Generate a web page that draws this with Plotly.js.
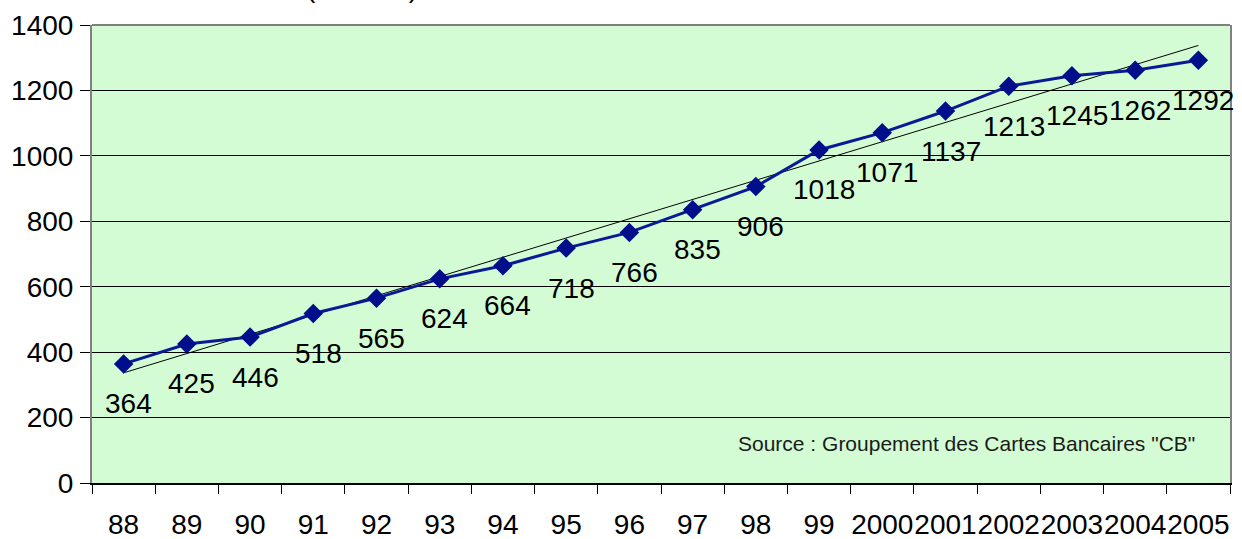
<!DOCTYPE html>
<html>
<head>
<meta charset="utf-8">
<script src="https://cdn.plot.ly/plotly-3.0.1.min.js"></script>
<style>html,body{margin:0;padding:0;background:#fff;}#chart{width:1242px;height:539px;}</style>
</head>
<body>
<div id="chart"></div>
<script>
const years = ['88','89','90','91','92','93','94','95','96','97','98','99','2000','2001','2002','2003','2004','2005'];
const cards = [364,425,446,518,565,624,664,718,766,835,906,1018,1071,1137,1213,1245,1262,1292];
const sourceText = 'Source : Groupement des Cartes Bancaires "CB"';
const titleText = '(millions)';

// Linear trend line (least squares over category index), like the spreadsheet trendline
const n = cards.length;
const idx = cards.map((_, i) => i);
const mx = idx.reduce((a, b) => a + b, 0) / n;
const my = cards.reduce((a, b) => a + b, 0) / n;
let sxy = 0, sxx = 0;
for (let i = 0; i < n; i++) { sxy += (idx[i] - mx) * (cards[i] - my); sxx += (idx[i] - mx) ** 2; }
const slope = sxy / sxx, icpt = my - slope * mx;
const trend = idx.map(i => icpt + slope * i);

const FONT = 'Liberation Sans, Arial, sans-serif';

const traces = [
  {
    x: years, y: trend, type: 'scatter', mode: 'lines',
    line: {color: '#000000', width: 1}, hoverinfo: 'skip', showlegend: false
  },
  {
    x: years, y: cards, type: 'scatter', mode: 'lines+markers',
    line: {color: '#0a1a96', width: 3},
    marker: {symbol: 'diamond', size: 15, color: '#000e8c'},
    showlegend: false
  }
];

// category axis annotations use the category serial number
const annotations = cards.map((v, i) => ({
  x: i, y: v, xref: 'x', yref: 'y', text: String(v),
  showarrow: false, yshift: -40, xshift: 5, font: {family: FONT, size: 28, color: '#000'}
}));
annotations.push({
  xref: 'paper', yref: 'paper', x: 0.971, y: 0.087, xanchor: 'right', yanchor: 'middle',
  text: sourceText, showarrow: false, font: {family: FONT, size: 21, color: '#1a1a1a'}
});
annotations.push({
  xref: 'paper', yref: 'paper', x: 0.237, y: 1.043, xanchor: 'center', yanchor: 'bottom',
  text: titleText, showarrow: false, font: {family: FONT, size: 28, color: '#000'}
});

const layout = {
  width: 1242, height: 539,
  margin: {l: 92, r: 12, t: 25, b: 56, pad: 0},
  paper_bgcolor: '#ffffff', plot_bgcolor: '#d4fcd4',
  font: {family: FONT, size: 28, color: '#000'},
  xaxis: {
    type: 'category', tickson: 'boundaries', ticks: 'outside', ticklen: 9, tickcolor: '#000',
    showgrid: false, showline: true, linecolor: '#000', linewidth: 1.5, tickangle: 0,
    tickfont: {family: FONT, size: 28, color: '#000'}, ticklabelstandoff: 16,
    range: [-0.5, 17.5], fixedrange: true
  },
  yaxis: {
    range: [0, 1400], dtick: 200, tick0: 0, ticks: 'outside', ticklen: 10, tickcolor: '#000',
    showgrid: true, gridcolor: '#000', gridwidth: 1, zeroline: false,
    showline: true, linecolor: '#808080', linewidth: 2, mirror: true,
    tickfont: {family: FONT, size: 28, color: '#000'}, ticklabelstandoff: 1, fixedrange: true
  },
  shapes: [
    {type: 'line', xref: 'paper', yref: 'paper', x0: 0, x1: 1, y0: 1, y1: 1, line: {color: '#808080', width: 2}}
  ],
  annotations: annotations
};

Plotly.newPlot('chart', traces, layout, {displayModeBar: false, staticPlot: true});
</script>
</body>
</html>
